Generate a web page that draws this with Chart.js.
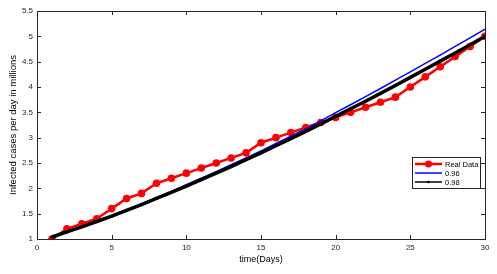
<!DOCTYPE html>
<html>
<head>
<meta charset="utf-8">
<script src="https://cdn.jsdelivr.net/npm/chart.js@4"></script>
<style>
  html, body { margin: 0; padding: 0; background: #fff; }
  #wrap { width: 497px; height: 274px; }
</style>
</head>
<body>
<div id="wrap"><canvas id="chartFit" width="497" height="274"></canvas></div>
<script>
'use strict';

// ---- data --------------------------------------------------
const days = [1,2,3,4,5,6,7,8,9,10,11,12,13,14,15,16,17,18,19,20,21,22,23,24,25,26,27,28,29,30];
const realData = [1.0,1.2,1.3,1.4,1.6,1.8,1.9,2.1,2.2,2.3,2.4,2.5,2.6,2.7,2.9,3.0,3.1,3.2,3.3,3.4,3.5,3.6,3.7,3.8,4.0,4.2,4.4,4.6,4.8,5.0];
const fit096 = [1.04,1.14,1.245,1.35,1.46,1.575,1.695,1.815,1.94,2.07,2.2,2.33,2.465,2.6,2.74,2.885,3.03,3.18,3.33,3.495,3.65,3.81,3.97,4.135,4.3,4.465,4.63,4.8,4.97,5.14];
const fit098 = [1.04,1.14,1.24,1.345,1.45,1.565,1.68,1.8,1.92,2.045,2.17,2.3,2.43,2.565,2.7,2.84,2.98,3.125,3.27,3.42,3.57,3.72,3.875,4.03,4.19,4.35,4.51,4.67,4.835,5.0];
const xTicks = [0,5,10,15,20,25,30];
const yTicks = [1,1.5,2,2.5,3,3.5,4,4.5,5,5.5];
const seriesNames = ['Real Data', '0.96', '0.98'];

const FONT = "'Liberation Sans', Arial, sans-serif";
const AXIS_COLOR = '#262626';

const toPts = (ys) => days.map((d, i) => ({ x: d, y: ys[i] }));

// ---- box frame + inward ticks + legend ----------------------
const matlabBox = {
    id: 'matlabBox',
    afterDraw(chart) {
        const { ctx, chartArea: a, scales } = chart;
        ctx.save();
        ctx.strokeStyle = AXIS_COLOR;
        ctx.lineWidth = 1;
        ctx.strokeRect(a.left + 0.5, a.top + 0.5, a.right - a.left, a.bottom - a.top);

        const len = 4;
        ctx.beginPath();
        xTicks.forEach(v => {
            const px = Math.round(scales.x.getPixelForValue(v)) + 0.5;
            ctx.moveTo(px, a.bottom); ctx.lineTo(px, a.bottom - len);
            ctx.moveTo(px, a.top); ctx.lineTo(px, a.top + len);
        });
        yTicks.forEach(v => {
            const py = Math.round(scales.y.getPixelForValue(v)) + 0.5;
            ctx.moveTo(a.left, py); ctx.lineTo(a.left + len, py);
            ctx.moveTo(a.right, py); ctx.lineTo(a.right - len, py);
        });
        ctx.stroke();

        // legend box
        const lx = 412, ly = 157, lw = 68, lh = 31;
        ctx.fillStyle = '#fff';
        ctx.fillRect(lx, ly, lw, lh);
        ctx.strokeStyle = AXIS_COLOR;
        ctx.strokeRect(lx + 0.5, ly + 0.5, lw, lh);

        const rows = [
            { color: '#ff0000', width: 2.5, r: 3.5 },
            { color: '#0000ff', width: 1.5, r: 0 },
            { color: '#000000', width: 1.5, r: 1.3 },
        ];
        ctx.font = '7.5px ' + FONT;
        ctx.textBaseline = 'middle';
        rows.forEach((row, i) => {
            const y = ly + 7 + i * 9;
            ctx.strokeStyle = row.color;
            ctx.lineWidth = row.width;
            ctx.beginPath();
            ctx.moveTo(lx + 3, y); ctx.lineTo(lx + 30, y);
            ctx.stroke();
            if (row.r) {
                ctx.fillStyle = row.color;
                ctx.beginPath();
                ctx.arc(lx + 16.5, y, row.r, 0, Math.PI * 2);
                ctx.fill();
            }
            ctx.fillStyle = '#000';
            ctx.fillText(seriesNames[i], lx + 33, y + 0.5);
        });
        ctx.restore();
    }
};

const ctx = document.getElementById('chartFit');

new Chart(ctx, {
    type: 'line',
    data: {
        datasets: [
            {
                label: seriesNames[0],
                data: toPts(realData),
                borderColor: '#ff0000',
                backgroundColor: '#ff0000',
                borderWidth: 2.5,
                pointRadius: 3.8,
                pointBorderWidth: 0,
                tension: 0,
                order: 3,
            },
            {
                label: seriesNames[1],
                data: toPts(fit096),
                borderColor: '#0000ff',
                borderWidth: 1.5,
                pointRadius: 0,
                tension: 0,
                order: 2,
            },
            {
                label: seriesNames[2],
                data: toPts(fit098),
                borderColor: '#000000',
                backgroundColor: '#000000',
                borderWidth: 3.5,
                pointRadius: 1.5,
                pointBorderWidth: 0,
                tension: 0,
                order: 1,
            },
        ],
    },
    options: {
        responsive: false,
        animation: false,
        layout: { padding: { top: 11, right: 12, left: 0, bottom: 0 } },
        plugins: {
            legend: { display: false },
            tooltip: { enabled: false },
        },
        scales: {
            x: {
                type: 'linear',
                min: 0, max: 30,
                afterBuildTicks: (s) => { s.ticks = xTicks.map(v => ({ value: v })); },
                afterFit: (s) => { s.height = 35; },
                grid: { display: false, drawTicks: false },
                border: { display: false },
                ticks: {
                    font: { family: FONT, size: 8 },
                    color: AXIS_COLOR,
                    padding: 4,
                    maxRotation: 0,
                    callback: (v) => String(v),
                },
                title: {
                    display: true,
                    text: 'time(Days)',
                    font: { family: FONT, size: 9 },
                    color: '#000',
                    padding: { top: 3, bottom: 9 },
                },
            },
            y: {
                type: 'linear',
                min: 1, max: 5.5,
                afterBuildTicks: (s) => { s.ticks = yTicks.map(v => ({ value: v })); },
                afterFit: (s) => { s.width = 37; },
                grid: { display: false, drawTicks: false },
                border: { display: false },
                ticks: {
                    font: { family: FONT, size: 8 },
                    color: AXIS_COLOR,
                    padding: 4,
                    callback: (v) => String(v),
                },
                title: {
                    display: true,
                    text: 'Infected cases per day in millions',
                    font: { family: FONT, size: 9.5 },
                    color: '#000',
                    padding: { top: 8, bottom: 2 },
                },
            },
        },
    },
    plugins: [matlabBox],
});
</script>
</body>
</html>
